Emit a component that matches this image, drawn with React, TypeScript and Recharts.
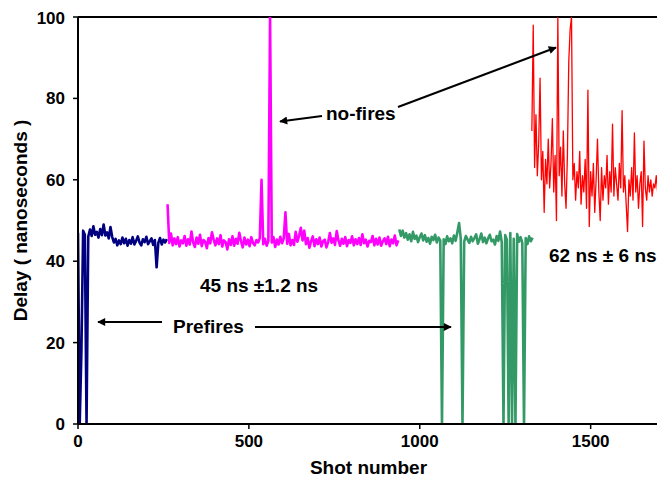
import React from 'react';
import { LineChart, Line, XAxis, YAxis, ReferenceLine } from 'recharts';

// Shot-number start and spacing of each recorded segment
const navyStart = 0;
const navyStep = 5;
const navyValues = [47, 0, 18, 47.5, 46.5, 0, 46, 47.8, 46.2, 48.6, 46.5, 47.2, 45.8, 47.9, 46.4, 49, 46.3, 47.1, 45.6, 48.4, 46, 44.6, 45.5, 43.9, 45.1, 44.2, 45.8, 44.4, 45.5, 43.8, 45.2, 44.3, 45.9, 44.1, 45, 46.1, 44.6, 43.9, 45.4, 44.7, 46, 44.2, 44.9, 45.6, 44, 45.2, 38.5, 44.5, 45.7, 44.1, 45.3, 44.6, 45.4];

const magentaStart = 262;
const magentaStep = 5;
const magentaValues = [54, 44.5, 46.8, 43.9, 45.6, 44.2, 45.9, 43.6, 45.1, 44.4, 46.2, 43.8, 45.4, 44.1, 47.3, 44.6, 43.5, 45.8, 44.3, 46.5, 43.7, 45.2, 44.8, 43.2, 45.7, 44.4, 47.1, 45.3, 43.9, 45.6, 44.2, 46.4, 43.6, 45.1, 44.7, 42.9, 45.4, 44, 46.1, 43.8, 45.5, 44.3, 47, 44.9, 43.4, 45.8, 44.1, 45.3, 43.7, 45.9, 44.5, 43.9, 45.2, 44.6, 45.7, 60, 44.2, 45.5, 43.8, 45, 100, 44.6, 45.9, 43.5, 45.3, 44.1, 46, 44.4, 45.6, 52, 44.3, 46.7, 43.9, 45.2, 44, 47.2, 44.8, 46.3, 48.2, 45.1, 47.5, 44.2, 45.7, 43.3, 44.9, 46.1, 43.7, 45.4, 44.2, 45.8, 43.6, 44.9, 45.3, 43.4, 44.7, 46.9, 44.5, 45.6, 44, 47.4, 45.1, 43.8, 45.5, 44.3, 45.9, 43.7, 45.2, 44.5, 46.1, 43.9, 45.4, 44.2, 45.7, 44, 46.6, 44.4, 45.3, 43.6, 45, 44.7, 46.2, 43.9, 45.5, 44.1, 45.8, 43.8, 44.9, 45.6, 44.2, 46, 43.7, 45.3, 44.4, 46.3, 43.9, 45.1];

const greenStart = 940;
const greenStep = 5;
const greenValues = [47.8, 46.2, 47.5, 45.8, 46.9, 45.3, 46.6, 44.9, 47.2, 45.5, 46.3, 44.7, 45.9, 46.8, 45.1, 46.4, 44.8, 45.7, 44.3, 46, 45.2, 46.5, 44.6, 45.8, 45.1, 0, 45.4, 44.2, 46.1, 44.9, 45.6, 44.4, 46.3, 45, 47.1, 49.4, 45.5, 0, 44.8, 46.2, 45.3, 44.5, 46, 44.9, 45.7, 46.6, 44.3, 45.4, 46.8, 44.7, 45.8, 44.4, 45.6, 46.5, 44.9, 45.3, 44.1, 46.2, 45, 47.3, 44.6, 0, 46.4, 45.2, 0, 46.9, 0, 45.5, 0, 46.7, 44.8, 45.9, 44.5, 0, 45.7, 44.2, 46.1, 44.9, 45.8];

const redStart = 1328;
const redStep = 4;
const redValues = [72, 98, 63, 76, 61, 69, 85, 60, 67, 52, 65, 59, 70, 58, 64, 75, 57, 66, 50, 100, 61, 68, 56, 72, 59, 53, 66, 89, 97, 100, 60, 64, 55, 62, 58, 67, 54, 61, 57, 65, 53, 82, 48.5, 62, 56, 64, 52, 60, 70, 57, 50, 63, 55, 61, 58, 66, 54, 62, 57, 73.7, 56, 63, 59, 55, 64, 58, 77, 57, 61, 54, 47.3, 60, 56, 63, 55, 71.5, 57, 61, 53, 59, 62, 48.5, 69.5, 58, 55, 61, 57, 60, 56, 59, 58, 61, 57, 59];

const xTicks = [0, 500, 1000, 1500];
const yTicks = [0, 20, 40, 60, 80, 100];

const toPoints = (start: number, step: number, values: number[]) =>
  values.map((y, i) => ({ x: start + i * step, y }));

const navyData = toPoints(navyStart, navyStep, navyValues);
const magentaData = toPoints(magentaStart, magentaStep, magentaValues);
const greenData = toPoints(greenStart, greenStep, greenValues);
const redData = toPoints(redStart, redStep, redValues);

const FONT = '"Liberation Sans", Arial, sans-serif';

const YLabel = (props: any) => {
  const vb = props.viewBox || {};
  const cx = 12;
  const cy = vb.y + vb.height / 2;
  return (
    <text x={cx} y={cy} transform={`rotate(-90 ${cx} ${cy})`} textAnchor="middle" dominantBaseline="central"
      fontFamily={FONT} fontWeight="bold" fontSize={19} fill="#000">
      Delay ( nanoseconds )
    </text>
  );
};

const XLabel = (props: any) => {
  const vb = props.viewBox || {};
  const cx = vb.x + vb.width / 2;
  return (
    <text x={cx} y={466} textAnchor="middle" fontFamily={FONT} fontWeight="bold" fontSize={19} fill="#000">
      Shot number
    </text>
  );
};

export default function App() {
  const textStyle = { fontFamily: FONT, fontWeight: 'bold' as const, fontSize: 19, fill: '#000' };
  return (
    <div style={{ position: 'absolute', left: 8, top: 8, width: 649, height: 472, overflow: 'hidden', background: '#fff' }}>
      <LineChart width={660} height={472} margin={{ top: 9, right: 9, bottom: 0, left: 0 }}>
        <XAxis
          type="number"
          dataKey="x"
          domain={[0, 1700]}
          ticks={xTicks}
          allowDataOverflow
          height={56}
          axisLine={{ stroke: '#000', strokeWidth: 2 }}
          tickLine={{ stroke: '#000', strokeWidth: 1.5 }}
          tickSize={5}
          tickMargin={6}
          tick={{ fill: '#000', fontFamily: FONT, fontWeight: 'bold', fontSize: 17 }}
          label={<XLabel />}
        />
        <YAxis
          type="number"
          domain={[0, 100]}
          ticks={yTicks}
          allowDataOverflow
          width={70}
          axisLine={{ stroke: '#000', strokeWidth: 2 }}
          tickLine={{ stroke: '#000', strokeWidth: 1.5 }}
          tickSize={5}
          tickMargin={8}
          tick={{ fill: '#000', fontFamily: FONT, fontWeight: 'bold', fontSize: 17 }}
          label={<YLabel />}
        />
        <ReferenceLine y={100} stroke="#000" strokeWidth={2} />
        <Line data={navyData} dataKey="y" type="linear" stroke="#000080" strokeWidth={2.6} strokeLinejoin="round" dot={false} isAnimationActive={false} />
        <Line data={magentaData} dataKey="y" type="linear" stroke="#ff00ff" strokeWidth={2.6} strokeLinejoin="round" dot={false} isAnimationActive={false} />
        <Line data={greenData} dataKey="y" type="linear" stroke="#339966" strokeWidth={2.6} strokeLinejoin="round" dot={false} isAnimationActive={false} />
        <Line data={redData} dataKey="y" type="linear" stroke="#ff0000" strokeWidth={1.3} strokeLinejoin="round" dot={false} isAnimationActive={false} />
      </LineChart>
      <svg width={649} height={472} style={{ position: 'absolute', left: 0, top: 0, pointerEvents: 'none' }}>
        <defs>
          <marker id="ah" viewBox="0 0 10 10" refX="9" refY="5" markerWidth="5" markerHeight="4" orient="auto" markerUnits="strokeWidth">
            <path d="M0,0 L10,5 L0,10 z" fill="#000" />
          </marker>
        </defs>
        <text x={318} y={112} {...textStyle}>no-fires</text>
        <line x1={314} y1={108} x2={272} y2={113.5} stroke="#000" strokeWidth={2} markerEnd="url(#ah)" />
        <line x1={390} y1={99} x2={548} y2={39.5} stroke="#000" strokeWidth={2} markerEnd="url(#ah)" />
        <text x={165} y={325} {...textStyle}>Prefires</text>
        <line x1={154} y1={314} x2={90} y2={314} stroke="#000" strokeWidth={2} markerEnd="url(#ah)" />
        <line x1={247} y1={319} x2={443} y2={319} stroke="#000" strokeWidth={2} markerEnd="url(#ah)" />
        <text x={192} y={284} {...textStyle}>45 ns ±1.2 ns</text>
        <text x={541} y={254} {...textStyle}>62 ns ± 6 ns</text>
      </svg>
    </div>
  );
}
